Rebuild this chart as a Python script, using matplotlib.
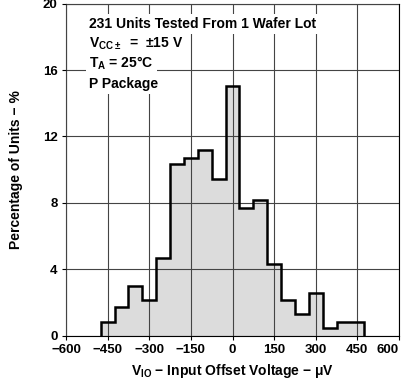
import matplotlib
matplotlib.use('Agg')
import matplotlib.pyplot as plt
import numpy as np

plt.rcParams['font.family'] = ['Liberation Sans', 'DejaVu Sans']
plt.rcParams['font.weight'] = 'bold'
plt.rcParams['mathtext.fontset'] = 'custom'
plt.rcParams['mathtext.rm'] = 'Liberation Sans:bold'
plt.rcParams['mathtext.bf'] = 'Liberation Sans:bold'
plt.rcParams['mathtext.it'] = 'Liberation Sans:bold'
plt.rcParams['mathtext.default'] = 'rm'

# Data (bin centres in uV, percent of units)
bin_centers = [-450, -400, -350, -300, -250, -200, -150, -100, -50, 0,
               50, 100, 150, 200, 250, 300, 350, 400, 450]
percent = [0.85, 1.7, 3.0, 2.15, 4.7, 10.35, 10.7, 11.2, 9.45, 15.05,
           7.7, 8.2, 4.3, 2.15, 1.3, 2.55, 0.45, 0.85, 0.85]
x_ticks = [-600, -450, -300, -150, 0, 150, 300, 450, 600]
y_ticks = [0, 4, 8, 12, 16, 20]
notes = ['231 Units Tested From 1 Wafer Lot',
         r'V$_{CC\pm}$  =  $\pm$15 V',
         r'T$_A$ = 25$\degree$C',
         'P Package']

centers = np.array(bin_centers)
width = centers[1] - centers[0]
edges = np.append(centers - width / 2, centers[-1] + width / 2)

fig = plt.figure(figsize=(4.06, 3.79), dpi=100)
ax = fig.add_axes([66/406, 43.3/379, 333/406, 332/379])

ax.stairs(percent, edges, fill=True, color='#dcdcdc', zorder=1)
ax.grid(True, color='#444444', lw=0.8, zorder=2)
ax.set_axisbelow(False)
ax.stairs(percent, edges, baseline=0, fill=False, color='black', lw=1.8, zorder=3)

ax.set_xlim(-600, 600)
ax.set_ylim(0, 20)
ax.set_xticks(x_ticks)
ax.set_yticks(y_ticks)
ax.tick_params(labelsize=9.5, length=3, width=0.8, pad=3)
for lab in ax.get_xticklabels() + ax.get_yticklabels():
    lab.set_fontweight('bold')
# last x label sits flush with the right edge
ax.get_xticklabels()[-1].set_horizontalalignment('right')
ax.get_xticklabels()[-1].set_x(605)
for s in ax.spines.values():
    s.set_linewidth(0.8)

ax.set_xlabel(r'V$_{IO}$ $-$ Input Offset Voltage $-$ $\mu$V', fontsize=10, fontweight='bold', labelpad=4)
ax.set_ylabel('Percentage of Units \u2212 %', fontsize=10, fontweight='bold', labelpad=14)

# annotation block, each line with its own white background
ys = [28, 48, 68, 88]
for txt, y in zip(notes, ys):
    fig.text(89/406, 1 - y/379, txt, fontsize=10, fontweight='bold', va='baseline', ha='left',
             bbox=dict(facecolor='white', edgecolor='none', pad=2.5), zorder=5)

fig.savefig('out.png', dpi=100)
